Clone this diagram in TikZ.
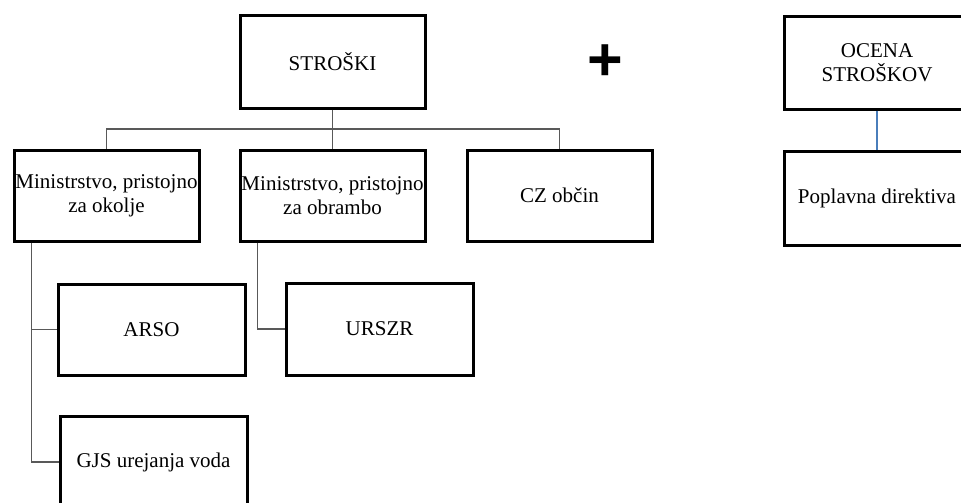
\documentclass[tikz,border=0pt]{standalone}
\usepackage{fontspec}
\setmainfont{Liberation Serif}
\newfontfamily\plusfont{Liberation Sans}
\begin{document}
\begin{tikzpicture}[x=1pt,y=-1pt,
  box/.style={draw=black, line width=3pt, rectangle, inner sep=0pt, align=center,
    font=\fontsize{21}{24}\selectfont},
  conn/.style={draw=black!65, line width=1.2pt},
  blueconn/.style={line width=2.4pt}]
\useasboundingbox (0,0) rectangle (961,503);
\fill[white] (0,0) rectangle (961,503);
\node[box, minimum width=185, minimum height=92] (ST) at (332.5,62) {STROŠKI};
\node[box, minimum width=185, minimum height=91] (MO) at (106.5,195.5) {Ministrstvo, pristojno\\za okolje};
\node[box, minimum width=185, minimum height=91] (MB) at (332.5,195.5) {Ministrstvo, pristojno\\za obrambo};
\node[box, minimum width=185, minimum height=91] (CZ) at (559.5,195.5) {CZ občin};
\node[box, minimum width=186, minimum height=92] (OC) at (877,63) {OCENA\\STROŠKOV};
\node[box, minimum width=186, minimum height=94] (PD) at (877,198) {Poplavna direktiva};
\node[box, minimum width=187, minimum height=91] (AR) at (151.5,329.5) {ARSO};
\node[box, minimum width=187, minimum height=92] (UR) at (379.5,329) {URSZR};
\node[box, minimum width=187, minimum height=92] (GJ) at (153.5,462) {GJS urejanja voda};
\node[inner sep=0pt, font=\plusfont\bfseries\fontsize{61}{61}\selectfont] (PL) at (605,63) {+};
\coordinate (bar) at (332.5,129);
\draw[conn] (ST.south) -- (bar);
\draw[conn] (MO.north) |- (bar);
\draw[conn] (CZ.north) |- (bar);
\draw[conn] (MB.north) -- (bar);
\draw[conn] ([xshift=19]MO.south west) |- (GJ.west);
\draw[conn] (AR.west) -- ([xshift=19]MO.south west |- AR.west);
\draw[conn] ([xshift=19]MB.south west) |- (UR.west);
\draw[blueconn, draw={rgb,255:red,74;green,126;blue,187}] (OC.south) -- (PD.north);
\end{tikzpicture}
\end{document}
